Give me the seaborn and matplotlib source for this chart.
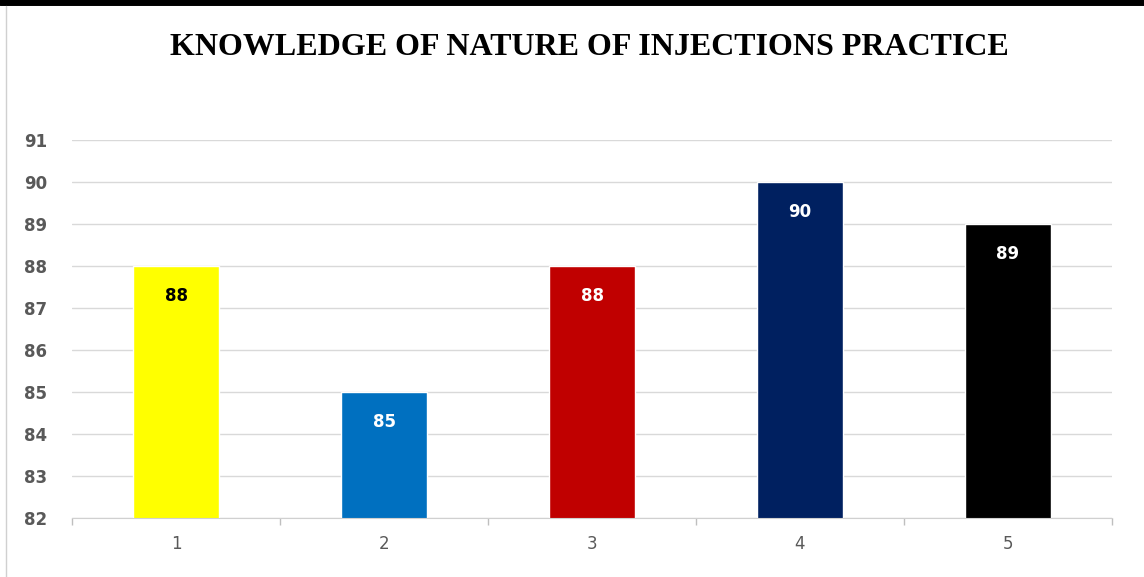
import matplotlib
matplotlib.use("Agg")
import matplotlib.pyplot as plt
import seaborn as sns
import pandas as pd

# data
categories = ["1", "2", "3", "4", "5"]
values = [88, 85, 88, 90, 89]
bar_colors = ["#FFFF00", "#0070C0", "#C00000", "#002060", "#000000"]
label_colors = ["#000000", "#FFFFFF", "#FFFFFF", "#FFFFFF", "#FFFFFF"]

df = pd.DataFrame({"cat": categories, "val": values})

sns.set_style("white")
plt.rcParams['font.family'] = ['DejaVu Sans']

fig = plt.figure(figsize=(11.44, 5.77), dpi=100)
ax = fig.add_axes([0.063, 0.102, 0.909, 0.655])

sns.barplot(data=df, x="cat", y="val", hue="cat", palette=bar_colors,
            width=0.41, legend=False, ax=ax, saturation=1)

ax.set_ylim(82, 91)
ax.set_yticks(range(82, 92))
ax.set_xlim(-0.5, 4.5)
ax.grid(axis="y", color="#D9D9D9", linewidth=1)
ax.set_axisbelow(True)
for s in ["top", "right", "left"]:
    ax.spines[s].set_visible(False)
ax.spines["bottom"].set_color("#D0D0D0")
ax.set_xlabel("")
ax.set_ylabel("")
ax.tick_params(axis="y", length=0, labelsize=12, labelcolor="#595959", pad=18)
ax.tick_params(axis="x", which="major", length=0, labelsize=12, labelcolor="#595959", pad=12)
ax.set_xticks([i + 0.5 for i in range(-1, 5)], minor=True)
ax.tick_params(axis="x", which="minor", bottom=True, length=5, width=1,
               color="#BFBFBF", direction="out")
for lab in ax.get_yticklabels():
    lab.set_fontweight("bold")

for i, v in enumerate(values):
    ax.text(i, v - 0.7, str(v), ha="center", va="center", fontsize=12,
            fontweight="bold", color=label_colors[i])

fig.text(0.515, 0.918, "KNOWLEDGE OF NATURE OF INJECTIONS PRACTICE",
         ha="center", va="center", fontsize=23, fontweight="bold", color="black",
         family=["Liberation Serif", "DejaVu Serif"])

# frame lines of the original screenshot
fig.add_artist(plt.Line2D([0, 1], [0.996, 0.996], color="black", linewidth=5,
                          transform=fig.transFigure))
fig.add_artist(plt.Line2D([0.005, 0.005], [0, 0.99], color="#D0D0D0", linewidth=1,
                          transform=fig.transFigure))

fig.savefig("out.png", dpi=100)
